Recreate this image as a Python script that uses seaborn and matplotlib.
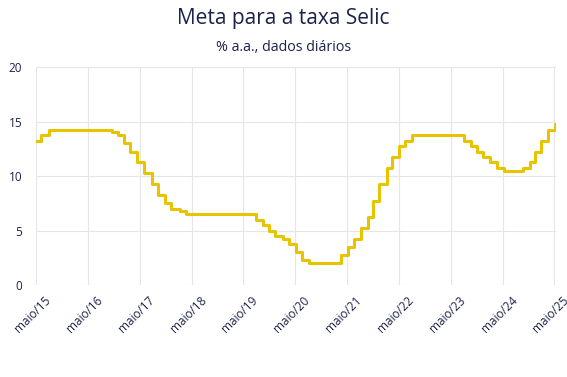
import numpy as np
import matplotlib
matplotlib.use('Agg')
import matplotlib.pyplot as plt
import matplotlib.transforms as mtransforms
import pandas as pd
import seaborn as sns

# Meta Selic (% a.a.) - datas de mudanca
dates = ['2015-05-01', '2015-06-04', '2015-07-30', '2016-10-20', '2016-12-01',
         '2017-01-12', '2017-02-23', '2017-04-13', '2017-06-01', '2017-07-27',
         '2017-09-07', '2017-10-26', '2017-12-07', '2018-02-08', '2018-03-22',
         '2019-08-01', '2019-09-19', '2019-10-31', '2019-12-12', '2020-02-06',
         '2020-03-19', '2020-05-07', '2020-06-18', '2020-08-06', '2021-03-18',
         '2021-05-06', '2021-06-17', '2021-08-05', '2021-09-23', '2021-10-28',
         '2021-12-09', '2022-02-03', '2022-03-17', '2022-05-05', '2022-06-16',
         '2022-08-04', '2023-08-03', '2023-09-21', '2023-11-02', '2023-12-14',
         '2024-02-01', '2024-03-21', '2024-05-09', '2024-09-19', '2024-11-07',
         '2024-12-12', '2025-01-30', '2025-03-20', '2025-05-08', '2025-05-12']
selic = [13.25, 13.75, 14.25, 14.00, 13.75,
         13.00, 12.25, 11.25, 10.25, 9.25,
         8.25, 7.50, 7.00, 6.75, 6.50,
         6.00, 5.50, 5.00, 4.50, 4.25,
         3.75, 3.00, 2.25, 2.00, 2.75,
         3.50, 4.25, 5.25, 6.25, 7.75,
         9.25, 10.75, 11.75, 12.75, 13.25,
         13.75, 13.25, 12.75, 12.25, 11.75,
         11.25, 10.75, 10.50, 10.75, 11.25,
         12.25, 13.25, 14.25, 14.75, 14.75]

tick_dates = ['2015-05-01', '2016-05-01', '2017-05-01', '2018-05-01', '2019-05-01',
              '2020-05-01', '2021-05-01', '2022-05-01', '2023-05-01', '2024-05-01',
              '2025-05-01']
tick_labels = ['maio/15', 'maio/16', 'maio/17', 'maio/18', 'maio/19', 'maio/20',
               'maio/21', 'maio/22', 'maio/23', 'maio/24', 'maio/25']

df = pd.DataFrame({'data': pd.to_datetime(dates), 'selic': selic})

sns.set_theme(style='whitegrid')
plt.rcParams['font.family'] = ['Open Sans', 'DejaVu Sans']

navy = '#1a2348'
fig = plt.figure(figsize=(5.67, 3.77), dpi=100)
ax = fig.add_axes([0.0635, 0.244, 0.917, 0.578])

sns.lineplot(data=df, x='data', y='selic', ax=ax, color='#e8c400',
             linewidth=2.2, drawstyle='steps-post')

ax.set_ylim(0, 20)
ax.set_yticks([0, 5, 10, 15, 20])
ax.set_xlim(pd.Timestamp('2015-05-01'), pd.Timestamp('2025-05-12'))
ax.set_xticks(pd.to_datetime(tick_dates))
ax.set_xticklabels(tick_labels, rotation=45, ha='right', rotation_mode='anchor')
ax.tick_params(axis='both', labelsize=8.5, colors=navy, length=0, pad=4)
ax.tick_params(axis='y', pad=10)
ax.set_xlabel('')
ax.set_ylabel('')
ax.grid(True, color='#e6e6e6', linewidth=0.8)
for s in ax.spines.values():
    s.set_visible(False)

# shift the rotated labels so their end sits right of the tick, as in the original
offset = mtransforms.ScaledTranslation(8 / 100, -3 / 100, fig.dpi_scale_trans)
for lab in ax.get_xticklabels():
    lab.set_transform(lab.get_transform() + offset)

fig.text(0.5, 0.952, 'Meta para a taxa Selic', ha='center', va='center',
         fontsize=15, color=navy)
fig.text(0.5, 0.875, '% a.a., dados diários', ha='center', va='center',
         fontsize=10.3, color=navy)

plt.savefig('out.png', dpi=100)
